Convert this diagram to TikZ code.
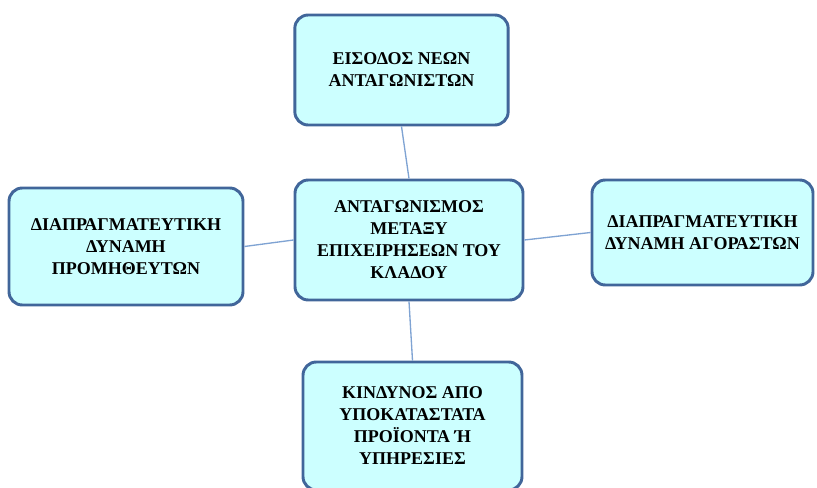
\documentclass[tikz,border=0pt]{standalone}
\usepackage{fontspec}
\setmainfont{Liberation Serif}
\definecolor{frame}{HTML}{41669A}
\definecolor{pale}{HTML}{CCFFFF}
\definecolor{link}{HTML}{7FA3D3}
\tikzset{force/.style={draw=frame,line width=2.2pt,fill=pale,rounded corners=10pt,align=center,inner sep=2pt,
    font=\bfseries\fontsize{13.5}{16.5}\selectfont}}

\begin{document}
\begin{tikzpicture}[x=0.75pt,y=-0.75pt]
  \useasboundingbox (0,0) rectangle (817,488);
  \node[force,minimum width=160pt,minimum height=82.5pt] (entry) at (401.5,70) {ΕΙΣΟΔΟΣ ΝΕΩΝ\\ΑΝΤΑΓΩΝΙΣΤΩΝ};
  \node[force,minimum width=171pt,minimum height=90pt] (rivalry) at (409,240) {ΑΝΤΑΓΩΝΙΣΜΟΣ\\ΜΕΤΑΞΥ\\ΕΠΙΧΕΙΡΗΣΕΩΝ ΤΟΥ\\ΚΛΑΔΟΥ};
  \node[force,minimum width=175.5pt,minimum height=87.75pt] (suppliers) at (126,246.5) {ΔΙΑΠΡΑΓΜΑΤΕΥΤΙΚΗ\\ΔΥΝΑΜΗ\\ΠΡΟΜΗΘΕΥΤΩΝ};
  \node[force,minimum width=165.75pt,minimum height=78.75pt] (buyers) at (702.5,232.5) {ΔΙΑΠΡΑΓΜΑΤΕΥΤΙΚΗ\\ΔΥΝΑΜΗ ΑΓΟΡΑΣΤΩΝ};
  \node[force,minimum width=164.25pt,minimum height=96pt] (substitutes) at (412.5,426) {ΚΙΝΔΥΝΟΣ ΑΠΟ\\ΥΠΟΚΑΤΑΣΤΑΤΑ\\ΠΡΟΪΟΝΤΑ Ή\\ ΥΠΗΡΕΣΙΕΣ};
  % links from the centre
  \draw[link,line width=1pt] (entry.south) -- (rivalry.north);
  \draw[link,line width=1pt] (suppliers.east) -- (rivalry.west);
  \draw[link,line width=1pt] (rivalry.east) -- (buyers.west);
  \draw[link,line width=1pt] (rivalry.south) -- (substitutes.north);
\end{tikzpicture}
\end{document}
